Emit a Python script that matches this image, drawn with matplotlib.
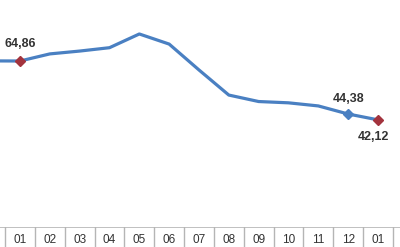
import matplotlib
matplotlib.use("Agg")
import matplotlib.pyplot as plt

# DATA
months = ["12", "01", "02", "03", "04", "05", "06",
          "07", "08", "09", "10", "11", "12", "01"]
values = [64.9, 64.86, 67.6, 68.7, 70.0, 75.3, 71.4,
          61.4, 51.7, 49.2, 48.7, 47.5, 44.38, 42.12]

# labelled points: (index, text, colour, offset in points)
labels = [(1, "64,86", "#a3333d", (0, 12)),
          (12, "44,38", "#4a80c2", (0, 11)),
          (13, "42,12", "#a3333d", (-3, -12))]

LINE = "#4a80c2"
plt.rcParams["font.family"] = ["Liberation Sans", "DejaVu Sans"]

fig = plt.figure(figsize=(4.0, 2.47), dpi=100)

# x positions, index 0 is the partial month on the left
xs = list(range(-1, len(months) - 1))
x_lim = (-20 / 29.83, 380 / 29.83)

ax = fig.add_axes([0, 20 / 247, 1, 227 / 247])
ax.plot(xs, values, color=LINE, lw=2.3, solid_joinstyle="round", zorder=2)

for i, txt, col, off in labels:
    ax.plot(xs[i], values[i], marker="D", ms=5, color=col, mec=col, zorder=3)
    ax.annotate(txt, (xs[i], values[i]), xytext=off,
                textcoords="offset points", ha="center", va="center",
                fontsize=9, fontweight="bold", color="#333333")

ax.set_xlim(*x_lim)
ax.set_ylim(0.72, 88.43)
ax.axis("off")

# month table under the chart
tab = fig.add_axes([0, 0, 1, 20 / 247])
tab.set_xlim(*x_lim)
tab.set_ylim(0, 1)
tab.axis("off")
tab.axhline(1, color="#b5b5b5", lw=1.2)
for x in xs:
    tab.axvline(x + 0.5, color="#b5b5b5", lw=1)
    if x >= 0:  # the partial cell on the left shows no label
        tab.text(x, 0.35, months[x + 1], ha="center", va="center",
                 fontsize=8.5, color="#333333")

fig.savefig("out.png", dpi=100)
